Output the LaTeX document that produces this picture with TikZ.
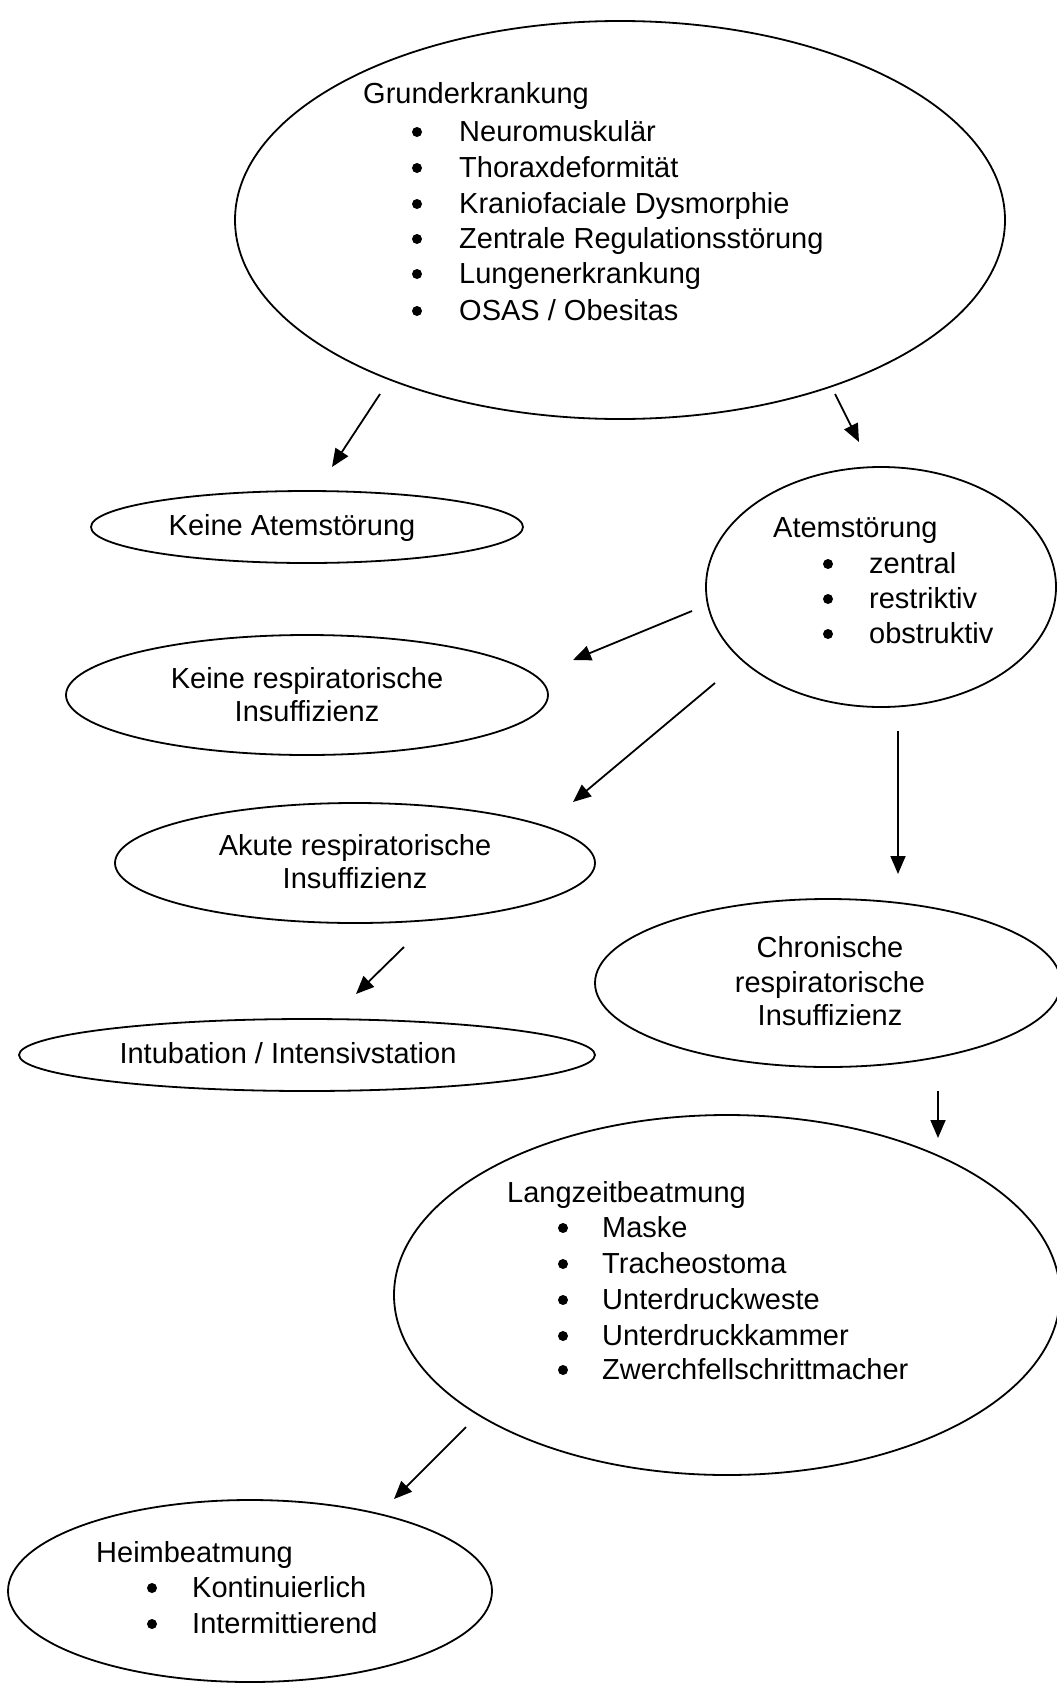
\documentclass[tikz,border=0pt]{standalone}
\usepackage{fontspec}
\setmainfont{Liberation Sans}
\usetikzlibrary{shapes.geometric,arrows.meta}
\tikzset{
  oval/.style={draw, ellipse, line width=1.8pt, inner sep=0pt},
  ltxt/.style={anchor=base west, inner sep=0pt, font=\fontsize{29}{36}\selectfont},
  ctxt/.style={anchor=base, inner sep=0pt, font=\fontsize{29}{36}\selectfont},
  arr/.style={line width=1.8pt, -{Triangle[length=18pt,width=15pt]}},
  bul/.style={fill=black}
}
\begin{document}
\begin{tikzpicture}[x=1pt,y=-1pt]
\useasboundingbox (0,0) rectangle (1057,1684);
\begin{scope}
\clip (0,0) rectangle (1057,1684);
% ellipses
\node[oval, minimum width=770pt, minimum height=398pt] (grund) at (620,220) {};
\node[oval, minimum width=432pt, minimum height=72pt] (keineatem) at (307,527) {};
\node[oval, minimum width=350pt, minimum height=240pt] (atem) at (881,587) {};
\node[oval, minimum width=482pt, minimum height=120pt] (keineresp) at (307,695) {};
\node[oval, minimum width=480pt, minimum height=120pt] (akute) at (355,863) {};
\node[oval, minimum width=576pt, minimum height=72pt] (intub) at (307,1055) {};
\node[oval, minimum width=466pt, minimum height=168pt] (chron) at (828,983) {};
\node[oval, minimum width=666pt, minimum height=360pt] (langzeit) at (727,1295) {};
\node[oval, minimum width=484pt, minimum height=182pt] (heim) at (250,1591) {};

% Grunderkrankung
\node[ltxt] (g0) at (363,103) {Grunderkrankung};
\foreach \y/\t [count=\i] in {141/{Neuromuskulär},177/{Thoraxdeformität},213/{Kraniofaciale Dysmorphie},248/{Zentrale Regulationsstörung},283/{Lungenerkrankung},320/{OSAS / Obesitas}}{
  \fill[bul] (417,\y-9) circle (5pt);
  \node[ltxt] (g\i) at (459,\y) {\t};
}
% Keine Atemstoerung
\node[ctxt] (ka) at (292,535) {Keine Atemstörung};
% Atemstoerung
\node[ltxt] (a0) at (773,537) {Atemstörung};
\foreach \y/\t [count=\i] in {573/{zentral},608/{restriktiv},643/{obstruktiv}}{
  \fill[bul] (828,\y-9) circle (5pt);
  \node[ltxt] (a\i) at (869,\y) {\t};
}
% Keine respiratorische Insuffizienz
\node[ctxt] (kr1) at (307,688) {Keine respiratorische};
\node[ctxt] (kr2) at (307,721) {Insuffizienz};
% Akute
\node[ctxt] (ak1) at (355,855) {Akute respiratorische};
\node[ctxt] (ak2) at (355,888) {Insuffizienz};
% Intubation
\node[ctxt] (in1) at (288,1063) {Intubation / Intensivstation};
% Chronische
\node[ctxt] (ch1) at (830,957) {Chronische};
\node[ctxt] (ch2) at (830,992) {respiratorische};
\node[ctxt] (ch3) at (830,1025) {Insuffizienz};
% Langzeitbeatmung
\node[ltxt] (l0) at (507,1202) {Langzeitbeatmung};
\foreach \y/\t [count=\i] in {1237/{Maske},1273/{Tracheostoma},1309/{Unterdruckweste},1345/{Unterdruckkammer},1379/{Zwerchfellschrittmacher}}{
  \fill[bul] (563,\y-9) circle (5pt);
  \node[ltxt] (l\i) at (602,\y) {\t};
}
% Heimbeatmung
\node[ltxt] (h0) at (96,1562) {Heimbeatmung};
\foreach \y/\t [count=\i] in {1597/{Kontinuierlich},1633/{Intermittierend}}{
  \fill[bul] (152,\y-9) circle (5pt);
  \node[ltxt] (h\i) at (192,\y) {\t};
}

% arrow endpoints
\coordinate (s1) at (380,394);  \coordinate (e1) at (332,467);
\coordinate (s2) at (835,394);  \coordinate (e2) at (859,442);
\coordinate (s3) at (692,611);  \coordinate (e3) at (573,660);
\coordinate (s4) at (715,683);  \coordinate (e4) at (573,802);
\coordinate (s5) at (898,731);  \coordinate (e5) at (898,874);
\coordinate (s6) at (404,947);  \coordinate (e6) at (356,994);
\coordinate (s7) at (938,1091); \coordinate (e7) at (938,1138);
\coordinate (s8) at (466,1427); \coordinate (e8) at (394,1499);
\foreach \k in {1,...,8}{ \draw[arr] (s\k) -- (e\k); }
\end{scope}
\end{tikzpicture}
\end{document}
